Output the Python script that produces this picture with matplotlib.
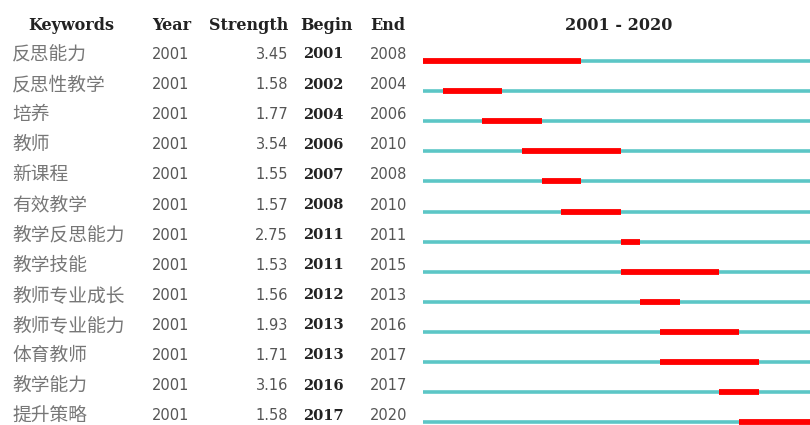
import matplotlib
matplotlib.use("Agg")
import matplotlib.pyplot as plt
from matplotlib.transforms import blended_transform_factory

keywords = ["反思能力", "反思性教学", "培养", "教师", "新课程", "有效教学", "教学反思能力",
            "教学技能", "教师专业成长", "教师专业能力", "体育教师", "教学能力", "提升策略"]
year = [2001] * 13
strength = [3.45, 1.58, 1.77, 3.54, 1.55, 1.57, 2.75, 1.53, 1.56, 1.93, 1.71, 3.16, 1.58]
begin = [2001, 2002, 2004, 2006, 2007, 2008, 2011, 2011, 2012, 2013, 2013, 2016, 2017]
end = [2008, 2004, 2006, 2010, 2008, 2010, 2011, 2015, 2013, 2016, 2017, 2017, 2020]
span_start, span_end = 2001, 2020
headers = ["Keywords", "Year", "Strength", "Begin", "End"]

W, H = 810, 425
fig = plt.figure(figsize=(W / 100, H / 100), dpi=100)

row0_px, row_step = 61.0, 30.1
x0_px, year_px = 423.0, 19.75
ax_w_px = (span_end + 1 - span_start) * year_px
ax = fig.add_axes([x0_px / W, 0, ax_w_px / W, 1])
ax.set_xlim(span_start, span_end + 1)
ax.set_ylim((H - row0_px) / row_step, -row0_px / row_step)
ax.axis("off")

teal = "#5CC6C6"
red = "#FF0000"
for i in range(len(keywords)):
    ax.plot([span_start, span_end + 1], [i, i], color=teal, lw=2.6, solid_capstyle="butt", zorder=1)
    ax.plot([begin[i], end[i] + 1], [i, i], color=red, lw=4.2, solid_capstyle="butt", zorder=2)

tr = blended_transform_factory(fig.transFigure, ax.transData)
dy = -6.5 / row_step
gray = "#555555"
hfont = "DejaVu Serif"
for i in range(len(keywords)):
    y = i + dy
    ax.text(12 / W, y, keywords[i], transform=tr, ha="left", va="center",
            fontsize=13.5, color="#777777", family=["Noto Sans CJK SC", "DejaVu Sans"])
    ax.text(152 / W, y, str(year[i]), transform=tr, ha="left", va="center",
            fontsize=10.5, color=gray, family="DejaVu Sans")
    ax.text(288 / W, y, f"{strength[i]:.2f}", transform=tr, ha="right", va="center",
            fontsize=10.5, color=gray, family="DejaVu Sans")
    ax.text(303 / W, y, str(begin[i]), transform=tr, ha="left", va="center",
            fontsize=10.5, color="#222222", family=hfont, weight="bold")
    ax.text(370 / W, y, str(end[i]), transform=tr, ha="left", va="center",
            fontsize=10.5, color=gray, family="DejaVu Sans")

hy = 1 - 25 / H
hx = [28, 152, 209, 300, 370]
for x, txt in zip(hx, headers):
    fig.text(x / W, hy, txt, ha="left", va="center", fontsize=11.5, weight="bold",
             family=hfont, color="#222222")
fig.text(619 / W, hy, f"{span_start} - {span_end}", ha="center", va="center",
         fontsize=11.5, weight="bold", family=hfont, color="#222222")

fig.savefig("out.png", dpi=100)
